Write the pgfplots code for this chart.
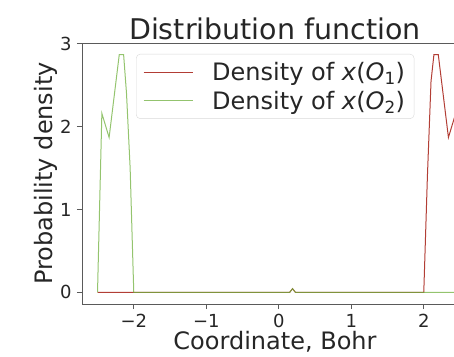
\documentclass[border=0pt]{standalone}
\usepackage{pgfplots}
\pgfplotsset{compat=1.18}
\usepackage{fontspec}
\setmainfont{DejaVu Sans}
\definecolor{cred}{RGB}{165,28,18}
\definecolor{cgreen}{RGB}{112,176,62}
\definecolor{spine}{RGB}{90,90,90}
\begin{document}
\begin{tikzpicture}
\path[use as bounding box] (-82pt,-52pt) rectangle (372pt,304pt);
\begin{axis}[
  scale only axis, width=386pt, height=261pt,
  xmin=-2.714, xmax=2.61, ymin=-0.14, ymax=3.01,
  axis line style={spine, line width=0.9pt},
  tick style={spine, line width=0.9pt},
  tick align=outside, major tick length=5pt,
  xtick pos=bottom, ytick pos=left,
  xtick={-2,-1,0,1,2}, xticklabels={−2,−1,0,1,2},
  ytick={0,1,2,3}, yticklabels={0,1,2,3},
  ticklabel style={font=\fontsize{18}{20}\selectfont, text=black!85},
  xticklabel style={yshift=-2pt},
  yticklabel style={xshift=-2pt},
  xlabel={Coordinate, Bohr}, ylabel={Probability density},
  label style={font=\fontsize{24}{26}\selectfont, text=black!85},
  xlabel style={yshift=3.5pt},
  ylabel style={yshift=-4pt},
  title={Distribution function},
  title style={font=\fontsize{28.5}{30}\selectfont, text=black!85, yshift=-6pt},
  legend cell align=left,
  legend style={at={(0.14,0.958)}, anchor=north west, draw=black!15, rounded corners=4pt,
    font=\fontsize{24}{26}\selectfont, text=black!85, inner xsep=7pt, inner ysep=6pt,
    nodes={inner sep=2pt}, row sep=5pt,
    /tikz/every odd column/.append style={column sep=17pt}},
  legend image code/.code={\draw[#1, line width=1pt] (0pt,0pt) -- (49pt,0pt);},
  clip=true,
]
\addplot[cred, line width=1pt, opacity=0.85] coordinates {
 (-2.5,0) (-2.0,0) (0.15,0) (0.19,0.045) (0.23,0) (2.0,0) (2.05,1.4) (2.1,2.55)
 (2.14,2.87) (2.2,2.87) (2.34,1.87) (2.44,2.16) (2.5,0)};
\addlegendentry{Density of \textit{x}(\textit{O}\textsubscript{1})}
\addplot[cgreen, line width=1pt, opacity=0.75] coordinates {
 (-2.5,0) (-2.44,2.16) (-2.34,1.87) (-2.2,2.87) (-2.14,2.87) (-2.1,2.4) (-2.05,1.5)
 (-2.0,0) (0.15,0) (0.19,0.045) (0.23,0) (2.5,0)};
\addlegendentry{Density of \textit{x}(\textit{O}\textsubscript{2})}
\end{axis}
\end{tikzpicture}
\end{document}
